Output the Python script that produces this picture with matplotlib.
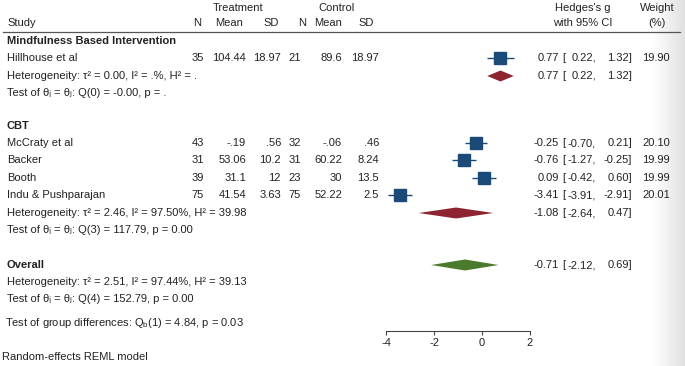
import numpy as np
import matplotlib
matplotlib.use("Agg")
import matplotlib.pyplot as plt
from matplotlib.patches import Polygon

plt.rcParams["font.family"] = ["Liberation Sans", "DejaVu Sans"]
plt.rcParams["font.size"] = 8

# ---- data -------------------------------------------------------------
studies = ["Hillhouse et al", "McCraty et al", "Backer", "Booth", "Indu & Pushparajan"]
n_t = [35, 43, 31, 39, 75]
mean_t = ["104.44", "-.19", "53.06", "31.1", "41.54"]
sd_t = ["18.97", ".56", "10.2", "12", "3.63"]
n_c = [21, 32, 31, 23, 75]
mean_c = ["89.6", "-.06", "60.22", "30", "52.22"]
sd_c = ["18.97", ".46", "8.24", "13.5", "2.5"]
g = [0.77, -0.25, -0.76, 0.09, -3.41]
g_lo = [0.22, -0.70, -1.27, -0.42, -3.91]
g_hi = [1.32, 0.21, -0.25, 0.60, -2.91]
weight = [19.90, 20.10, 19.99, 19.99, 20.01]

groups = ["Mindfulness Based Intervention", "CBT"]
sub_g = [0.77, -1.08]
sub_lo = [0.22, -2.64]
sub_hi = [1.32, 0.47]
sub_het = ["Heterogeneity: τ² = 0.00, I² = .%, H² = .",
           "Heterogeneity: τ² = 2.46, I² = 97.50%, H² = 39.98"]
sub_test = ["Test of θᵢ = θⱼ: Q(0) = -0.00, p = .",
            "Test of θᵢ = θⱼ: Q(3) = 117.79, p = 0.00"]

overall = [-0.71, -2.12, 0.69]
overall_het = "Heterogeneity: τ² = 2.51, I² = 97.44%, H² = 39.13"
overall_test = "Test of θᵢ = θⱼ: Q(4) = 152.79, p = 0.00"
group_test = "Test of group differences: Q$_\\mathregular{b}$(1) = 4.84, p = 0.03"
xticks = [-4, -2, 0, 2]

# ---- layout (pixel rows) -----------------------------------------------
W, H = 685, 366
study_y = [58, 143, 160, 178, 195]
group_y = [41, 126]
sub_y = [76, 213]
subtest_y = [93, 230]
overall_y = 265
TXT = "#222222"
NAVY, RED, GREEN = "#1b4a78", "#8e2431", "#4c7a2c"

fig = plt.figure(figsize=(W / 100, H / 100), dpi=100)
ax = fig.add_axes([0, 0, 1, 1])
ax.set_xlim(0, W); ax.set_ylim(H, 0); ax.axis("off")

# right-edge shadow of the screenshot
grad = np.linspace(1.0, 0.88, 50)[None, :]
ax.imshow(grad, cmap="gray", vmin=0, vmax=1, aspect="auto",
          extent=[652, W, H, 0], zorder=0)


def t(x, y, s, ha="left", **kw):
    ax.text(x, y, s, ha=ha, va="center", color=TXT, **kw)


# header
t(238, 8, "Treatment", ha="center"); t(337, 8, "Control", ha="center")
t(583, 8, "Hedges's g", ha="center"); t(657, 8, "Weight", ha="center")
t(7, 23, "Study")
for x, s in [(201, "N"), (243, "Mean"), (279, "SD"), (306, "N"), (342, "Mean"), (374, "SD")]:
    t(x, 23, s, ha="right")
t(583, 23, "with 95% CI", ha="center"); t(657, 23, "(%)", ha="center")
ax.plot([3, 680], [32, 32], color="#555555", lw=0.9)


def effect_text(y, est, lo, hi, w=None):
    t(559, y, f"{est:.2f}", ha="right")
    t(562, y, "[")
    t(596, y, f"{lo:.2f},", ha="right")
    t(632, y, f"{hi:.2f}]", ha="right")
    if w is not None:
        t(670, y, f"{w:.2f}", ha="right")


for i, name in enumerate(studies):
    y = study_y[i]
    t(7, y, name)
    t(204, y, str(n_t[i]), ha="right")
    t(246, y, mean_t[i], ha="right")
    t(281, y, sd_t[i], ha="right")
    t(301, y, str(n_c[i]), ha="right")
    t(342, y, mean_c[i], ha="right")
    t(379, y, sd_c[i], ha="right")
    effect_text(y, g[i], g_lo[i], g_hi[i], weight[i])

for k, name in enumerate(groups):
    t(7, group_y[k], name, fontweight="bold")
    t(7, sub_y[k], sub_het[k])
    t(7, subtest_y[k], sub_test[k])
    effect_text(sub_y[k], sub_g[k], sub_lo[k], sub_hi[k])

t(7, overall_y, "Overall", fontweight="bold")
t(7, 282, overall_het)
t(7, 299, overall_test)
t(5.5, 323, group_test)
t(2, 357, "Random-effects REML model")
effect_text(overall_y, *overall)

# ---- forest panel ------------------------------------------------------
x0, x1, ybot = 386, 530, 331
fax = fig.add_axes([x0 / W, (H - ybot) / H, (x1 - x0) / W, ybot / H])
fax.set_xlim(-4, 2); fax.set_ylim(ybot, 0)
fax.patch.set_alpha(0)
for s in ["top", "left", "right"]:
    fax.spines[s].set_visible(False)
fax.spines["bottom"].set_color("#444444"); fax.spines["bottom"].set_linewidth(0.8)
fax.set_yticks([])
fax.set_xticks(xticks)
fax.set_xticklabels([str(v) for v in xticks], color=TXT)
fax.tick_params(axis="x", length=3, width=0.8, color="#444444", pad=2, labelsize=8)

fax.hlines(study_y, g_lo, g_hi, color=NAVY, lw=1.0, zorder=2)
fax.plot(g, study_y, "s", color=NAVY, ms=8.6, zorder=3)


def diamond(axis, y, est, lo, hi, color, half=5.5):
    axis.add_patch(Polygon([[lo, y], [est, y - half], [hi, y], [est, y + half]],
                           closed=True, color=color, lw=0, zorder=3))


for k in range(len(groups)):
    diamond(fax, sub_y[k], sub_g[k], sub_lo[k], sub_hi[k], RED)
diamond(fax, overall_y, overall[0], overall[1], overall[2], GREEN)

fig.savefig("out.png", dpi=100)
